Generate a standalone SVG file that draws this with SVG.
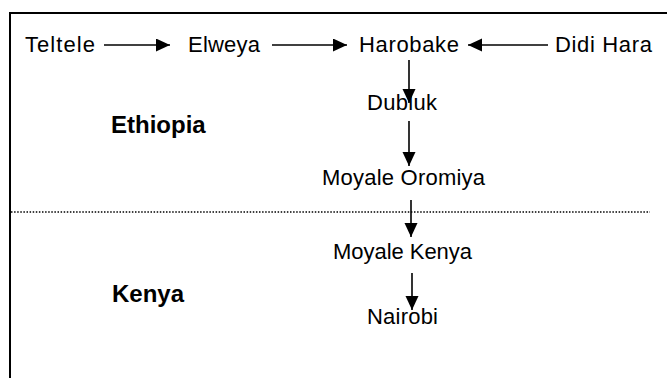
<svg xmlns="http://www.w3.org/2000/svg" width="667" height="378" viewBox="0 0 667 378">
<defs>
<marker id="ah" markerWidth="14" markerHeight="14" refX="14" refY="6.5" orient="auto" markerUnits="userSpaceOnUse">
<path d="M0,0 L14,6.5 L0,13 Z" fill="#000"/>
</marker>
<style>
.t{font-family:"Liberation Sans",Arial,sans-serif;font-size:22px;fill:#000}
.c{font-family:"Liberation Sans",Arial,sans-serif;font-size:24px;font-weight:bold;fill:#000}
.e{stroke:#000;stroke-width:1.6;fill:none;marker-end:url(#ah)}
</style>
</defs>
<rect width="667" height="378" fill="#fff"/>
<g id="frame" stroke="#000" stroke-width="2" fill="none">
<path d="M10,378 V13 H667"/>
</g>
<line id="border" x1="11" y1="212" x2="650" y2="212" stroke="#000" stroke-width="1.5" stroke-dasharray="1.5 1.6"/>
<g id="connectors">
<line class="e" x1="104" y1="45" x2="170" y2="45"/>
<line class="e" x1="272" y1="45" x2="347" y2="45"/>
<line class="e" x1="548" y1="45" x2="468" y2="45"/>
<line class="e" x1="409" y1="60" x2="409" y2="103"/>
<line class="e" x1="409" y1="121" x2="409" y2="166"/>
<line class="e" x1="411" y1="200" x2="411" y2="237"/>
<line class="e" x1="412" y1="273" x2="412" y2="310"/>
</g>
<g id="teltele"><text class="t" x="25" y="52" textLength="70">Teltele</text></g>
<g id="elweya"><text class="t" x="188" y="52" textLength="72">Elweya</text></g>
<g id="harobake"><text class="t" x="359" y="52" textLength="100">Harobake</text></g>
<g id="didihara"><text class="t" x="555" y="52" textLength="97">Didi Hara</text></g>
<g id="dubluk"><text class="t" x="367" y="110" textLength="70">Dubluk</text></g>
<g id="moyaleoromiya"><text class="t" x="322" y="185" textLength="163">Moyale Oromiya</text></g>
<g id="moyalekenya"><text class="t" x="333" y="259" textLength="139">Moyale Kenya</text></g>
<g id="nairobi"><text class="t" x="367" y="324" textLength="71">Nairobi</text></g>
<g id="ethiopia"><text class="c" x="111" y="133">Ethiopia</text></g>
<g id="kenya"><text class="c" x="112" y="302">Kenya</text></g>
</svg>
